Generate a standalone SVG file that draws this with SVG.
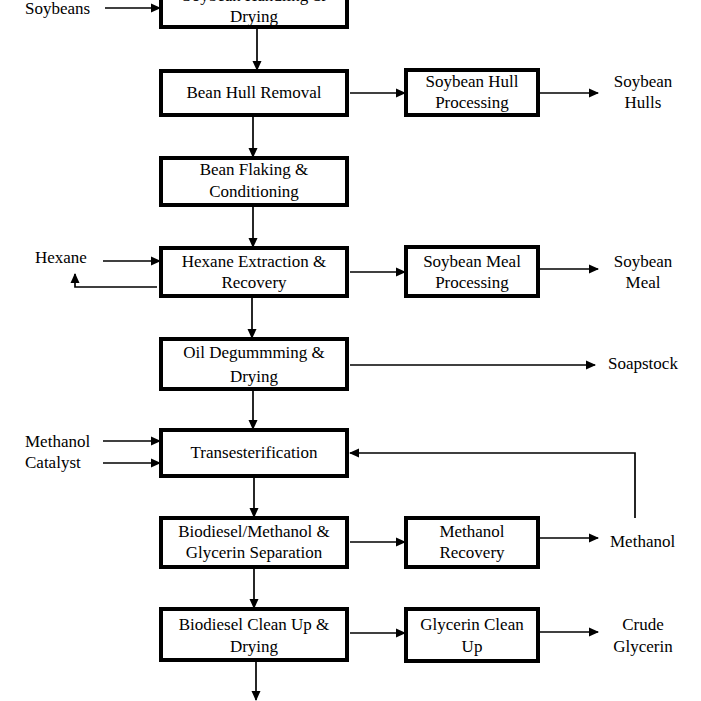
<svg xmlns="http://www.w3.org/2000/svg" width="701" height="701" viewBox="0 0 701 701">
<style>
.box{fill:#fff;stroke:#000;stroke-width:4}
text{font-family:"Liberation Serif","Times New Roman",serif;font-size:17px;fill:#000;text-anchor:middle}
.l{text-anchor:start}
.c{fill:none;stroke:#000;stroke-width:1.7}
</style>
<defs>
<marker id="ah" markerWidth="10" markerHeight="10" refX="9" refY="5" orient="auto" markerUnits="userSpaceOnUse">
<path d="M0,0.5 L10,5 L0,9.5 Z" fill="#000"/>
</marker>
</defs>
<rect width="701" height="701" fill="#fff"/>
<g id="connectors">
<path class="c" d="M105,8 H160" marker-end="url(#ah)"/>
<path class="c" d="M257,28 V70" marker-end="url(#ah)"/>
<path class="c" d="M350,93 H405" marker-end="url(#ah)"/>
<path class="c" d="M538,93 H598" marker-end="url(#ah)"/>
<path class="c" d="M253,115 V157" marker-end="url(#ah)"/>
<path class="c" d="M253,205 V247" marker-end="url(#ah)"/>
<path class="c" d="M103,261 H160" marker-end="url(#ah)"/>
<path class="c" d="M157,287 H75 V274" marker-end="url(#ah)"/>
<path class="c" d="M350,272 H405" marker-end="url(#ah)"/>
<path class="c" d="M538,269 H598" marker-end="url(#ah)"/>
<path class="c" d="M252,297 V338" marker-end="url(#ah)"/>
<path class="c" d="M350,365 H595" marker-end="url(#ah)"/>
<path class="c" d="M253,390 V429" marker-end="url(#ah)"/>
<path class="c" d="M103,441 H160" marker-end="url(#ah)"/>
<path class="c" d="M103,463 H160" marker-end="url(#ah)"/>
<path class="c" d="M635,518 V453 H350" marker-end="url(#ah)"/>
<path class="c" d="M254,477 V517" marker-end="url(#ah)"/>
<path class="c" d="M350,542 H405" marker-end="url(#ah)"/>
<path class="c" d="M538,538 H598" marker-end="url(#ah)"/>
<path class="c" d="M254,568 V608" marker-end="url(#ah)"/>
<path class="c" d="M350,633 H405" marker-end="url(#ah)"/>
<path class="c" d="M538,632 H598" marker-end="url(#ah)"/>
<path class="c" d="M256,661 V700" marker-end="url(#ah)"/>
</g>
<g id="soybeans"><text class="l" x="25" y="14">Soybeans</text></g>
<g id="handling">
<rect class="box" x="161" y="-20" width="186" height="47"/>
<text x="254" y="1">Soybean Handling &amp;</text>
<text x="254" y="22">Drying</text>
</g>
<g id="hull-removal">
<rect class="box" x="161" y="71" width="186" height="44"/>
<text x="254" y="98">Bean Hull Removal</text>
</g>
<g id="hull-processing">
<rect class="box" x="406" y="70" width="132" height="45"/>
<text x="472" y="87">Soybean Hull</text>
<text x="472" y="108">Processing</text>
</g>
<g id="hulls"><text x="643" y="87">Soybean</text><text x="643" y="108">Hulls</text></g>
<g id="flaking">
<rect class="box" x="161" y="158" width="186" height="47"/>
<text x="254" y="175">Bean Flaking &amp;</text>
<text x="254" y="197">Conditioning</text>
</g>
<g id="hexane"><text class="l" x="35" y="263">Hexane</text></g>
<g id="extraction">
<rect class="box" x="161" y="248" width="186" height="48"/>
<text x="254" y="267">Hexane Extraction &amp;</text>
<text x="254" y="288">Recovery</text>
</g>
<g id="meal-processing">
<rect class="box" x="406" y="247" width="132" height="49"/>
<text x="472" y="267">Soybean Meal</text>
<text x="472" y="288">Processing</text>
</g>
<g id="meal"><text x="643" y="267">Soybean</text><text x="643" y="288">Meal</text></g>
<g id="degumming">
<rect class="box" x="161" y="339" width="186" height="50"/>
<text x="254" y="358">Oil Degummming &amp;</text>
<text x="254" y="382">Drying</text>
</g>
<g id="soapstock"><text class="l" x="608" y="369">Soapstock</text></g>
<g id="methanol-in"><text class="l" x="25" y="447">Methanol</text></g>
<g id="catalyst"><text class="l" x="25" y="468">Catalyst</text></g>
<g id="transesterification">
<rect class="box" x="161" y="430" width="186" height="46"/>
<text x="254" y="458">Transesterification</text>
</g>
<g id="separation">
<rect class="box" x="161" y="518" width="186" height="49"/>
<text x="254" y="537">Biodiesel/Methanol  &amp;</text>
<text x="254" y="558">Glycerin Separation</text>
</g>
<g id="methanol-recovery">
<rect class="box" x="406" y="518" width="132" height="49"/>
<text x="472" y="537">Methanol</text>
<text x="472" y="558">Recovery</text>
</g>
<g id="methanol-out"><text class="l" x="610" y="547">Methanol</text></g>
<g id="cleanup">
<rect class="box" x="161" y="609" width="186" height="51"/>
<text x="254" y="630">Biodiesel Clean Up &amp;</text>
<text x="254" y="652">Drying</text>
</g>
<g id="glycerin-cleanup">
<rect class="box" x="406" y="609" width="132" height="52"/>
<text x="472" y="630">Glycerin Clean</text>
<text x="472" y="652">Up</text>
</g>
<g id="crude-glycerin"><text x="643" y="630">Crude</text><text x="643" y="652">Glycerin</text></g>
</svg>
